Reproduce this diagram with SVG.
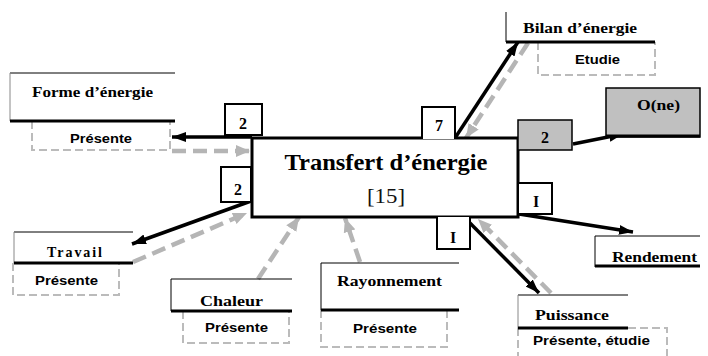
<svg xmlns="http://www.w3.org/2000/svg" width="708" height="356" viewBox="0 0 708 356">
<defs>
<style>
.ser{font-family:"Liberation Serif","Times New Roman",serif;font-weight:bold;fill:#000}
.san{font-family:"Liberation Sans",Arial,sans-serif;font-weight:bold;fill:#000}
.thin{stroke:#000;stroke-width:1;fill:none}
.side{stroke:#888;stroke-width:1;fill:none}
.base{stroke:#000;stroke-width:3;fill:none}
.dash{stroke:#bbb;stroke-width:2;stroke-dasharray:8 4;fill:none}
.num{fill:#fff;stroke:#000;stroke-width:2}
.blk{stroke:#000;stroke-width:3.5;fill:none}
.gry{stroke:#b5b5b5;stroke-width:4.5;stroke-dasharray:14 7;fill:none}
</style>
<marker id="ab" markerUnits="userSpaceOnUse" markerWidth="15" markerHeight="12" refX="14" refY="6" orient="auto">
<path d="M0,1 L14,6 L0,11 Z" fill="#000"/>
</marker>
<marker id="ag" markerUnits="userSpaceOnUse" markerWidth="15" markerHeight="13" refX="14" refY="6.5" orient="auto">
<path d="M0,0.5 L14,6.5 L0,12.5 Z" fill="#b5b5b5"/>
</marker>
</defs>
<rect width="708" height="356" fill="#fff"/>

<g id="connectors">
<line class="blk" x1="252" y1="137" x2="172" y2="137" marker-end="url(#ab)"/>
<line class="blk" x1="251" y1="201" x2="132" y2="244" marker-end="url(#ab)"/>
<line class="blk" x1="455" y1="138" x2="518" y2="42" marker-end="url(#ab)"/>
<line class="blk" x1="573" y1="144" x2="623" y2="134" marker-end="url(#ab)"/>
<line class="blk" x1="519" y1="214" x2="633" y2="232" marker-end="url(#ab)"/>
<line class="blk" x1="466" y1="219" x2="539" y2="293" marker-end="url(#ab)"/>
<line class="gry" x1="172" y1="151" x2="250" y2="151" marker-end="url(#ag)"/>
<line class="gry" x1="133" y1="262" x2="247" y2="213" marker-end="url(#ag)"/>
<line class="gry" x1="258" y1="279" x2="299" y2="217" marker-end="url(#ag)"/>
<line class="gry" x1="360" y1="262" x2="345" y2="218" marker-end="url(#ag)"/>
<line class="gry" x1="528" y1="43" x2="466" y2="138" marker-end="url(#ag)"/>
<line class="gry" x1="551" y1="293" x2="478" y2="219" marker-end="url(#ag)"/>
</g>

<g id="transfert">
<rect x="252" y="138" width="266" height="79" fill="#fff" stroke="#000" stroke-width="3"/>
<text class="ser" x="386" y="170" font-size="23" text-anchor="middle" textLength="203" lengthAdjust="spacingAndGlyphs">Transfert d’énergie</text>
<text x="386" y="203" font-size="21" text-anchor="middle" font-family="Liberation Serif, Times New Roman, serif" fill="#111" textLength="38" lengthAdjust="spacingAndGlyphs">[15]</text>
</g>

<g id="forme">
<line class="thin" x1="10" y1="73" x2="175" y2="73"/>
<line class="side" x1="10" y1="73" x2="10" y2="121"/>
<path class="dash" d="M32,121 V150 H170 V121"/>
<line class="base" x1="10" y1="121" x2="175" y2="121"/>
<text class="ser" x="32" y="97" font-size="15" textLength="121" lengthAdjust="spacingAndGlyphs">Forme d’énergie</text>
<text class="san" x="70" y="143" font-size="12" textLength="62" lengthAdjust="spacingAndGlyphs">Présente</text>
</g>

<g id="n2a">
<rect class="num" x="225" y="104" width="37" height="31"/>
<text class="ser" x="243" y="129" font-size="16" text-anchor="middle">2</text>
</g>
<g id="n2b">
<rect class="num" x="221" y="167" width="30" height="35"/>
<text class="ser" x="238" y="195" font-size="16" text-anchor="middle">2</text>
</g>

<g id="travail">
<line class="thin" x1="14" y1="232" x2="133" y2="232"/>
<line class="side" x1="14" y1="232" x2="14" y2="263"/>
<path class="dash" d="M13,263 V295 H119 V263"/>
<line class="base" x1="14" y1="263" x2="133" y2="263"/>
<text class="ser" x="47" y="257" font-size="14" textLength="55" lengthAdjust="spacing">Travail</text>
<text class="san" x="35" y="285" font-size="12" textLength="63" lengthAdjust="spacingAndGlyphs">Présente</text>
</g>

<g id="chaleur">
<line class="thin" x1="171" y1="279" x2="292" y2="279"/>
<line class="thin" x1="171" y1="279" x2="171" y2="311"/>
<path class="dash" d="M183,311 V343 H289 V311"/>
<line class="base" x1="171" y1="311" x2="292" y2="311"/>
<text class="ser" x="200" y="306" font-size="15" textLength="63" lengthAdjust="spacingAndGlyphs">Chaleur</text>
<text class="san" x="205" y="332" font-size="12" textLength="63" lengthAdjust="spacingAndGlyphs">Présente</text>
</g>

<g id="rayonnement">
<line class="thin" x1="321" y1="263" x2="459" y2="263"/>
<line class="thin" x1="321" y1="263" x2="321" y2="310"/>
<path class="dash" d="M321,310 V347 H447 V310"/>
<line class="base" x1="321" y1="310" x2="459" y2="310"/>
<text class="ser" x="337" y="286" font-size="14" textLength="105" lengthAdjust="spacingAndGlyphs">Rayonnement</text>
<text class="san" x="353" y="333" font-size="12" textLength="64" lengthAdjust="spacingAndGlyphs">Présente</text>
</g>

<g id="n7">
<path class="num" d="M422,139 V107 H455 V139"/>
<text class="ser" x="439" y="131" font-size="16" text-anchor="middle">7</text>
</g>

<g id="bilan">
<line class="thin" x1="506" y1="12" x2="506" y2="42"/>
<path class="dash" d="M538,42 V75 H655 V42"/>
<line class="base" x1="506" y1="42" x2="655" y2="42"/>
<text class="ser" x="523" y="33" font-size="14" textLength="114" lengthAdjust="spacingAndGlyphs">Bilan d’énergie</text>
<text class="san" x="575" y="64" font-size="12" textLength="45" lengthAdjust="spacingAndGlyphs">Etudie</text>
</g>

<g id="n2gray">
<rect x="518" y="120" width="54" height="30" fill="#c0c0c0" stroke="#000" stroke-width="1.5"/>
<text class="ser" x="545" y="143" font-size="16" text-anchor="middle">2</text>
</g>

<g id="one">
<rect x="606" y="88" width="94" height="49" fill="#c0c0c0" stroke="#000" stroke-width="1.5"/>
<line class="base" x1="606" y1="136" x2="700" y2="136"/>
<text class="ser" x="637" y="110" font-size="14" textLength="43" lengthAdjust="spacingAndGlyphs">O(ne)</text>
</g>

<g id="n1a">
<rect class="num" x="518" y="183" width="34" height="31"/>
<text class="ser" x="536" y="207" font-size="16" text-anchor="middle">I</text>
</g>
<g id="n1b">
<path class="num" d="M437,217 V249 H470 V217"/>
<text class="ser" x="453" y="243" font-size="16" text-anchor="middle">I</text>
</g>

<g id="rendement">
<line class="thin" x1="595" y1="236" x2="700" y2="236"/>
<line class="thin" x1="595" y1="236" x2="595" y2="267"/>
<line class="base" x1="595" y1="266" x2="700" y2="266"/>
<text class="ser" x="612" y="262" font-size="14" textLength="85" lengthAdjust="spacingAndGlyphs">Rendement</text>
</g>

<g id="puissance">
<line class="thin" x1="518" y1="295" x2="628" y2="295"/>
<line class="side" x1="518" y1="295" x2="518" y2="328"/>
<path class="dash" d="M518,328 V356 M628,328 H667 V356"/>
<line class="base" x1="518" y1="328" x2="628" y2="328"/>
<text class="ser" x="535" y="320" font-size="14" textLength="74" lengthAdjust="spacingAndGlyphs">Puissance</text>
<text class="san" x="533" y="345" font-size="12" textLength="117" lengthAdjust="spacingAndGlyphs">Présente, étudie</text>
</g>
</svg>
